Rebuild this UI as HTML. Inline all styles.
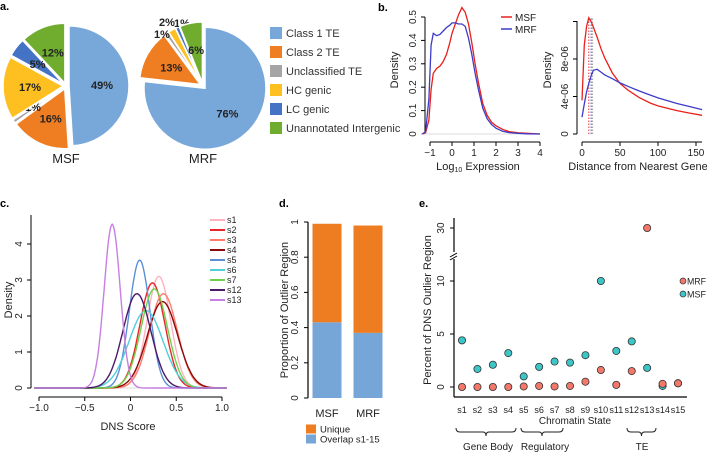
<!DOCTYPE html>
<html><head><meta charset="utf-8"><style>
body{margin:0;background:#fff;}
svg{display:block;font-family:"Liberation Sans",Arial,sans-serif;}
</style></head><body>
<svg id="fig" width="707" height="452" viewBox="0 0 707 452" xmlns="http://www.w3.org/2000/svg">
<g id="pa"></g>
<g id="pb"></g>
<g id="pc"></g>
<g id="pd"></g>
<g id="pe"></g>
</svg>
<script>
// ---------- data ----------
const pieCategories = ["Class 1 TE","Class 2 TE","Unclassified TE","HC genic","LC genic","Unannotated Intergenic"];
const pieColors = ["#78a8da","#ef7d22","#a5a5a5","#fdc020","#4472c4","#70ad2f"];
const msfPie = [49,16,1,17,5,12];
const mrfPie = [76,13,1,2,1,6];

const exprX = [-1.35,-1.2,-1.05,-0.95,-0.85,-0.7,-0.55,-0.4,-0.25,-0.1,0,0.15,0.3,0.45,0.6,0.75,0.9,1.05,1.2,1.4,1.6,1.8,2.0,2.3,2.6,3.0,3.4,4.0];
const exprMSF = [0,0.005,0.06,0.19,0.26,0.28,0.29,0.31,0.34,0.39,0.43,0.47,0.51,0.54,0.52,0.47,0.39,0.3,0.22,0.13,0.08,0.05,0.035,0.02,0.01,0.005,0.003,0];
const exprMRF = [0,0.01,0.15,0.38,0.43,0.42,0.425,0.44,0.455,0.465,0.475,0.475,0.47,0.47,0.46,0.41,0.34,0.26,0.19,0.11,0.065,0.04,0.025,0.012,0.006,0.003,0.001,0];

const distX = [0,3,6,9,12,15,20,25,30,40,50,60,75,90,100,115,125,140,158];
const distMSF = [3.6e-6,9.5e-6,11.5e-6,12.4e-6,12e-6,11.4e-6,10.3e-6,9.1e-6,8.1e-6,6.5e-6,5.4e-6,4.7e-6,3.9e-6,3.3e-6,3.0e-6,2.7e-6,2.5e-6,2.25e-6,2.0e-6];
const distMRF = [1.8e-6,3.2e-6,4.5e-6,5.4e-6,6.2e-6,6.8e-6,6.9e-6,6.6e-6,6.3e-6,5.9e-6,5.45e-6,5.1e-6,4.6e-6,4.15e-6,3.85e-6,3.5e-6,3.25e-6,2.95e-6,2.6e-6];
const distMedians = [9,12,14];

const dnsStates = ["s1","s2","s3","s4","s5","s6","s7","s12","s13"];
const dnsColors = ["#ffb3c1","#e8262a","#ff7b6b","#8b0a0a","#5b8fd6","#4fd0d8","#6fd24a","#4b1a6a","#c77fe0"];
const dnsMeans = [0.31,0.24,0.36,0.35,0.10,0.17,0.26,0.07,-0.20];
const dnsPeaks = [3.1,2.92,2.62,2.4,3.55,2.15,2.75,2.62,4.55];

const barCats = ["MSF","MRF"];
const barOverlap = [0.43,0.37];
const barUnique = [0.56,0.61];

const eStates = ["s1","s2","s3","s4","s5","s6","s7","s8","s9","s10","s11","s12","s13","s14","s15"];
const eMSF = [4.4,1.7,2.1,3.2,1.0,1.9,2.4,2.3,3.0,10.0,3.4,4.3,1.8,0.1,0.35];
const eMRF = [0,0,0,0,0.05,0.1,0.05,0.1,0.5,1.6,0.2,1.5,30,0.3,0.35];

// ---------- helpers ----------
const NS="http://www.w3.org/2000/svg";
function mk(parent,tag,attrs,txt){const e=document.createElementNS(NS,tag);for(const k in attrs)e.setAttribute(k,attrs[k]);if(txt!==undefined)e.textContent=txt;parent.appendChild(e);return e;}
function T(p,x,y,s,size,opts){opts=opts||{};const e=mk(p,"text",{x:x,y:y,"font-size":size,"text-anchor":opts.a||"middle",fill:opts.fill||"#222","font-weight":opts.w||"normal"},s);if(opts.rot)e.setAttribute("transform","rotate(-90 "+x+" "+y+")");return e;}
const fig=document.getElementById("fig");

[["a.",0,10],["b.",378,11],["c.",0,207],["d.",279,207],["e.",419,207]].forEach(l=>{
  const t=T(fig,l[1],l[2],l[0],11,{a:"start",w:"bold",fill:"#000"});
  
  
});

// ---------- panel a ----------
const pa=document.getElementById("pa");
function pie(cx,cy,r,vals,name,extLabels){
  const tot=vals.reduce((a,b)=>a+b,0);let a0=0;
  vals.forEach((v,i)=>{
    const a1=a0+v/tot*2*Math.PI, mid=(a0+a1)/2;
    const off=3, ox=off*Math.sin(mid), oy=-off*Math.cos(mid);
    const x0=cx+ox+r*Math.sin(a0), y0=cy+oy-r*Math.cos(a0), x1=cx+ox+r*Math.sin(a1), y1=cy+oy-r*Math.cos(a1);
    const p=mk(pa,"path",{d:`M${cx+ox},${cy+oy}L${x0},${y0}A${r},${r} 0 ${a1-a0>Math.PI?1:0} 1 ${x1},${y1}Z`,fill:pieColors[i],stroke:"#fff","stroke-width":1.5});
    
    
    let lx=cx+0.6*r*Math.sin(mid), ly=cy-0.6*r*Math.cos(mid)+4;
    if(extLabels&&extLabels[i]){lx=extLabels[i][0];ly=extLabels[i][1];}
    const t=T(pa,lx,ly,v+"%",11,{w:"bold",fill:"#222"});
    
    
    a0=a1;
  });
  const t=T(pa,cx,163,name,13,{fill:"#222"});
  
  
}
pie(66,86,60,msfPie,"MSF",{2:[33,111]});
pie(203,86,61,mrfPie,"MRF",{2:[162,38],3:[167,26],4:[182,27]});
pieCategories.forEach((c,i)=>{
  const y=33+19*i;
  const r=mk(pa,"rect",{x:270,y:y-6,width:12,height:12,fill:pieColors[i]});
  
  
  const t=T(pa,286,y+4,c,11,{a:"start",fill:"#333"});
  
  
});

// ---------- panel b ----------
const pb=document.getElementById("pb");
const bx1=v=>430+22*(v+1), by1=v=>134-234*v;
mk(pb,"line",{x1:425,y1:by1(0),x2:425,y2:by1(0.5),stroke:"#000"});
[0,0.1,0.2,0.3,0.4,0.5].forEach(v=>{mk(pb,"line",{x1:421,y1:by1(v),x2:425,y2:by1(v),stroke:"#000"});T(pb,416,by1(v),String(v),10,{rot:1});});
mk(pb,"line",{x1:bx1(-1),y1:142,x2:bx1(4),y2:142,stroke:"#000"});
[-1,0,1,2,3,4].forEach(v=>{mk(pb,"line",{x1:bx1(v),y1:142,x2:bx1(v),y2:146,stroke:"#000"});T(pb,bx1(v),156,String(v).replace("-","−"),10);});
mk(pb,"line",{x1:bx1(-1.4),y1:by1(0),x2:bx1(4),y2:by1(0),stroke:"#ddd"});
T(pb,398,70,"Density",11,{rot:1});
const xl=T(pb,478,170,"",11);xl.innerHTML='Log<tspan font-size="7" dy="2">10</tspan><tspan dy="-2"> Expression</tspan>';


function line(p,xs,ys,fx,fy,col,name,w){const d=xs.map((x,i)=>(i?"L":"M")+fx(x).toFixed(1)+","+fy(ys[i]).toFixed(1)).join("");const e=mk(p,"path",{d:d,fill:"none",stroke:col,"stroke-width":w||1.3});return e;}
line(pb,exprX,exprMSF,bx1,by1,"#e8201c","msf-expression-curve");
line(pb,exprX,exprMRF,bx1,by1,"#3c3cc8","mrf-expression-curve");
[["MSF","#e8201c",17],["MRF","#3c3cc8",29]].forEach(l=>{mk(pb,"line",{x1:501,y1:l[2],x2:512,y2:l[2],stroke:l[1],"stroke-width":1.5});const t=T(pb,515,l[2]+4,l[0],10,{a:"start"});});
const bx2=v=>582+0.76*v, by2=v=>134-9.375e6*v;
mk(pb,"line",{x1:577,y1:134,x2:577,y2:21,stroke:"#000"});
[[0,"0"],[4e-6,"4e-06"],[8e-6,"8e-06"],[1.2e-5,""]].forEach(v=>{mk(pb,"line",{x1:573,y1:by2(v[0]),x2:577,y2:by2(v[0]),stroke:"#000"});if(v[1])T(pb,568,by2(v[0]),v[1],10,{rot:1});});
mk(pb,"line",{x1:bx2(0),y1:142,x2:bx2(158),y2:142,stroke:"#000"});
[0,50,100,150].forEach(v=>{mk(pb,"line",{x1:bx2(v),y1:142,x2:bx2(v),y2:146,stroke:"#000"});T(pb,bx2(v),156,String(v),10);});
T(pb,551,70,"Density",11,{rot:1});
T(pb,638,170,"Distance from Nearest Gene",11);
[["#e8201c",0],["#3c3cc8",1],["#999",2]].forEach(m=>{const v=distMedians[m[1]];mk(pb,"line",{x1:bx2(v),y1:by2(0),x2:bx2(v),y2:by2(12.4e-6),stroke:m[0],"stroke-dasharray":"1.5,1.5","stroke-width":0.9});});
line(pb,distX,distMSF,bx2,by2,"#e8201c","msf-distance-curve");
line(pb,distX,distMRF,bx2,by2,"#3c3cc8","mrf-distance-curve");

// ---------- panel c ----------
const pc=document.getElementById("pc");
const cx=v=>130.5+91.5*v, cy=v=>388-36*v;
mk(pc,"line",{x1:31,y1:388,x2:31,y2:215,stroke:"#000"});
[0,1,2,3,4].forEach(v=>{mk(pc,"line",{x1:27,y1:cy(v),x2:31,y2:cy(v),stroke:"#000"});T(pc,22,cy(v),String(v),10,{rot:1});});
mk(pc,"line",{x1:cx(-1),y1:397,x2:cx(1),y2:397,stroke:"#000"});
[-1,-0.5,0,0.5,1].forEach(v=>{mk(pc,"line",{x1:cx(v),y1:397,x2:cx(v),y2:401,stroke:"#000"});T(pc,cx(v),411,(v===0?"0":v.toFixed(1)).replace("-","−"),10);});
T(pc,12,300,"Density",11,{rot:1});
T(pc,128,430,"DNS Score",11);
mk(pc,"line",{x1:cx(-1.05),y1:cy(0),x2:cx(1.05),y2:cy(0),stroke:"#ddd"});
dnsStates.forEach((s,i)=>{
  const m=dnsMeans[i], pk=dnsPeaks[i], sd=1/(pk*Math.sqrt(2*Math.PI));
  const xs=[],ys=[];for(let k=0;k<=210;k++){const x=-1.05+k*0.01;xs.push(x);ys.push(pk*Math.exp(-0.5*((x-m)/sd)**2));}
  line(pc,xs,ys,cx,cy,dnsColors[i],"density-curve-"+s,1.4);
  const y=220+10*i;
  mk(pc,"line",{x1:210,y1:y,x2:225,y2:y,stroke:dnsColors[i],"stroke-width":2});
  const t=T(pc,227,y+3,s,9,{a:"start"});
  
  
});

// ---------- panel d ----------
const pd=document.getElementById("pd");
const dy=v=>398-176*v;
const dx=[327,368];
mk(pd,"line",{x1:308,y1:dy(0),x2:308,y2:dy(1),stroke:"#000","stroke-width":1.2});
[0,0.2,0.4,0.6,0.8,1].forEach(v=>{mk(pd,"line",{x1:304,y1:dy(v),x2:308,y2:dy(v),stroke:"#000"});T(pd,298,dy(v),String(v),10,{rot:1});});
T(pd,288,310,"Proportion of Outlier Region",11,{rot:1});
barCats.forEach((c,i)=>{
  const b1=mk(pd,"rect",{x:dx[i]-14.5,y:dy(barOverlap[i]),width:29,height:dy(0)-dy(barOverlap[i]),fill:"#76a6d8"});
  
  
  const b2=mk(pd,"rect",{x:dx[i]-14.5,y:dy(barOverlap[i]+barUnique[i]),width:29,height:dy(barOverlap[i])-dy(barOverlap[i]+barUnique[i]),fill:"#ee7d22"});
  
  
  T(pd,dx[i],417,c,11);
});
[["Unique","#ee7d22",429],["Overlap s1-15","#76a6d8",439]].forEach(l=>{mk(pd,"rect",{x:306,y:l[2]-4.5,width:10,height:9,fill:l[1]});const t=T(pd,320,l[2]+3.5,l[0],9.5,{a:"start"});});

// ---------- panel e ----------
const pe=document.getElementById("pe");
const ex=i=>462+15.43*i;
const ey=v=>v>20?228+(30-v)*2.5:387-10.6*v;
mk(pe,"line",{x1:454,y1:397,x2:454,y2:259,stroke:"#000","stroke-width":1.2});
mk(pe,"line",{x1:454,y1:252,x2:454,y2:218,stroke:"#000","stroke-width":1.2});
mk(pe,"path",{d:"M450,257L457,253M450,260L457,256",stroke:"#000",fill:"none"});
[0,5,10,30].forEach(v=>{mk(pe,"line",{x1:450,y1:ey(v),x2:454,y2:ey(v),stroke:"#000"});T(pe,444,ey(v),String(v),10,{rot:1});});
mk(pe,"line",{x1:454,y1:397,x2:687,y2:397,stroke:"#000","stroke-width":1.2});
T(pe,431,310,"Percent of DNS Outlier Region",11,{rot:1});
eStates.forEach((s,i)=>{
  T(pe,ex(i),413,s,9);
  const m=mk(pe,"circle",{cx:ex(i),cy:ey(eMSF[i]),r:3.6,fill:"#3cc6c8",stroke:"#333","stroke-width":0.8});
  
  
  const r=mk(pe,"circle",{cx:ex(i),cy:ey(eMRF[i]),r:3.6,fill:"#f4786a",stroke:"#333","stroke-width":0.8});
  
  
});
T(pe,575,424,"Chromatin State",10);
function brace(x1,x2,y){const m=(x1+x2)/2;mk(pe,"path",{d:`M${x1},${y-4}Q${x1},${y} ${x1+4},${y}L${m-3},${y}Q${m},${y} ${m},${y+4}Q${m},${y} ${m+3},${y}L${x2-4},${y}Q${x2},${y} ${x2},${y-4}`,fill:"none",stroke:"#222","stroke-width":1});}
brace(456,516,432);brace(521,563,432);brace(627,656,432);
T(pe,488,450,"Gene Body",10);T(pe,545,450,"Regulatory",10);T(pe,642,450,"TE",10);
[["MRF","#f4786a",281],["MSF","#3cc6c8",294]].forEach(l=>{mk(pe,"circle",{cx:683,cy:l[2],r:3,fill:l[1],stroke:"#333","stroke-width":0.7});const t=T(pe,687,l[2]+3.5,l[0],9.5,{a:"start"});t.setAttribute("textLength","19");t.setAttribute("lengthAdjust","spacingAndGlyphs");});
</script>
</body></html>
